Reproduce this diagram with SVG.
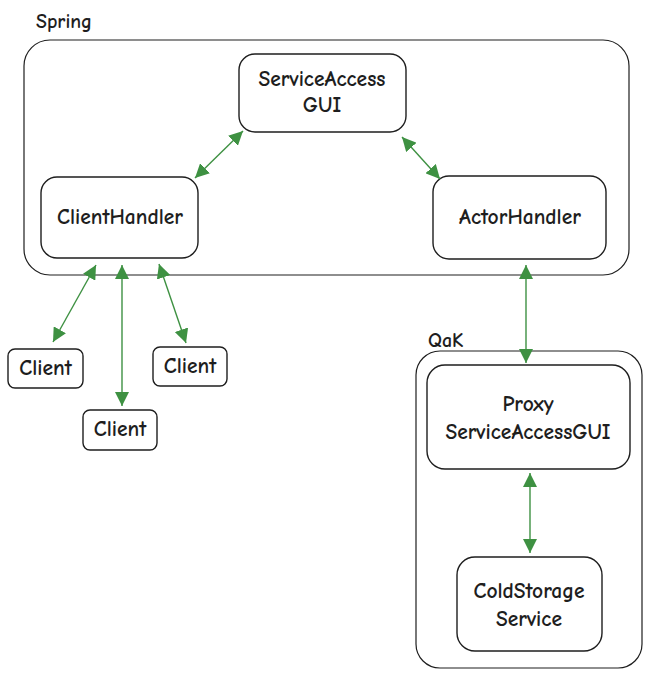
<svg xmlns="http://www.w3.org/2000/svg" width="657" height="682" viewBox="0 0 657 682">
<defs>
<marker id="ah" viewBox="0 0 10 10" refX="10" refY="5" markerWidth="14" markerHeight="14" markerUnits="userSpaceOnUse" orient="auto-start-reverse">
<path d="M0,0 L10,5 L0,10 z" fill="#3e9142"/>
</marker>
<style>
.box{fill:#fff;stroke:#1e1e1e;stroke-width:1.4}
.cont{fill:none;stroke:#1e1e1e;stroke-width:1.2}
.t{font-family:"Comic Neue","Liberation Sans",sans-serif;font-size:21.5px;font-weight:bold;fill:#1e1e1e;text-anchor:middle}
.lbl{font-family:"Comic Neue","Liberation Sans",sans-serif;font-size:20px;font-weight:bold;fill:#1e1e1e}
.c{stroke:#3e9142;stroke-width:1.4;fill:none;marker-start:url(#ah);marker-end:url(#ah)}
</style>
</defs>
<rect width="657" height="682" fill="#fff"/>
<g id="spring">
<rect class="cont" x="24" y="40" width="605" height="235" rx="26"/>
<text class="lbl" x="36" y="28">Spring</text>
</g>
<g id="qak">
<rect class="cont" x="416" y="351" width="226" height="317" rx="24"/>
<text class="lbl" x="428" y="347">QaK</text>
</g>
<g id="serviceaccessgui">
<rect class="box" x="239" y="54" width="167" height="78" rx="16"/>
<text class="t" x="322" y="86">ServiceAccess</text>
<text class="t" x="322" y="112">GUI</text>
</g>
<g id="clienthandler">
<rect class="box" x="41" y="177" width="157" height="81" rx="16"/>
<text class="t" x="120" y="224">ClientHandler</text>
</g>
<g id="actorhandler">
<rect class="box" x="433" y="176" width="173" height="83" rx="16"/>
<text class="t" x="520" y="224">ActorHandler</text>
</g>
<g id="client1">
<rect class="box" x="8" y="349" width="75" height="39" rx="7"/>
<text class="t" x="45.5" y="375">Client</text>
</g>
<g id="client2">
<rect class="box" x="83" y="410" width="74" height="40" rx="7"/>
<text class="t" x="120" y="436">Client</text>
</g>
<g id="client3">
<rect class="box" x="153" y="347" width="74" height="39" rx="7"/>
<text class="t" x="190" y="373">Client</text>
</g>
<g id="proxy">
<rect class="box" x="427" y="365" width="203" height="104" rx="18"/>
<text class="t" x="528" y="411">Proxy</text>
<text class="t" x="528" y="439">ServiceAccessGUI</text>
</g>
<g id="coldstorage">
<rect class="box" x="457" y="557" width="145" height="94" rx="18"/>
<text class="t" x="529" y="598">ColdStorage</text>
<text class="t" x="529" y="626">Service</text>
</g>
<g id="connectors">
<line class="c" x1="243" y1="131" x2="195" y2="178"/>
<line class="c" x1="402" y1="137" x2="440" y2="179"/>
<line class="c" x1="96" y1="265" x2="53" y2="342"/>
<line class="c" x1="122" y1="265" x2="122" y2="406"/>
<line class="c" x1="159" y1="264" x2="186" y2="343"/>
<line class="c" x1="526" y1="265" x2="526" y2="363"/>
<line class="c" x1="530" y1="473" x2="530" y2="553"/>
</g>
</svg>
